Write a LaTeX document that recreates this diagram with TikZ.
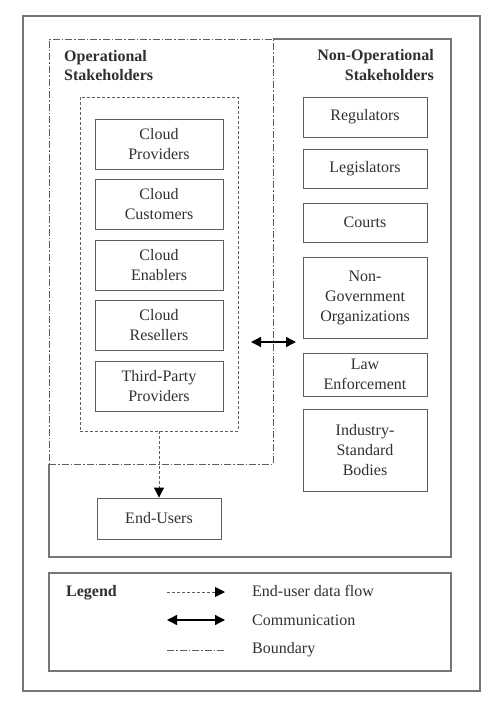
\documentclass[tikz,border=0pt]{standalone}
\usepackage{fontspec}
\setmainfont{Liberation Serif}
\usepackage{tikz}
\usetikzlibrary{arrows.meta}
\definecolor{edgegray}{HTML}{5E5E5E}
\definecolor{inkgray}{HTML}{303030}
\tikzset{
    frame/.style={draw=edgegray!85, line width=1.1pt},
    stake/.style={draw=edgegray, line width=0.9pt, align=center, inner sep=0pt, text=inkgray, font=\fontsize{16}{20}\selectfont},
    heading/.style={inner sep=0pt, text=inkgray, font=\bfseries\fontsize{16}{19}\selectfont},
    plain/.style={inner sep=0pt, text=inkgray, font=\fontsize{16}{20}\selectfont},
    zone/.style={draw=edgegray, line width=0.9pt, dash pattern=on 7pt off 2pt on 1.5pt off 2pt},
    group/.style={draw=edgegray, line width=0.9pt, dash pattern=on 3pt off 2pt},
    flow/.style={draw=edgegray, line width=0.9pt, dash pattern=on 3pt off 2pt, -{Triangle[length=10pt,width=10pt,black]}},
    talk/.style={draw=black, line width=1.3pt, {Triangle[length=10pt,width=10pt]}-{Triangle[length=10pt,width=10pt]}}
}

\begin{document}
\begin{tikzpicture}[x=1pt, y=-1pt]

                \useasboundingbox (0,0) rectangle (497,709);
                \draw[frame] (23,16) rectangle (480,691);
                \draw[frame] (273,39) -- (451,39) -- (451,557) -- (49,557) -- (49,464);
                \draw[frame] (49,573) rectangle (451,671);

                \node[zone, minimum width=224pt, minimum height=425pt] (opzone) at (161,251.5) {};
                \node[group, minimum width=158pt, minimum height=334pt] (opgroup) at (159,264) {};

                \node[heading, anchor=base west, align=left] (ophead) at (64,81) {Operational\\Stakeholders};
                \node[heading, anchor=base east, align=right] (nonophead) at (434,80) {Non-Operational\\Stakeholders};

                \node[stake, minimum width=128pt, minimum height=50pt] (providers) at (159,144) {Cloud\\Providers};
                \node[stake, minimum width=128pt, minimum height=50pt] (customers) at (159,204.5) {Cloud\\Customers};
                \node[stake, minimum width=128pt, minimum height=50pt] (enablers) at (159,265) {Cloud\\Enablers};
                \node[stake, minimum width=128pt, minimum height=50pt] (resellers) at (159,325.5) {Cloud\\Resellers};
                \node[stake, minimum width=128pt, minimum height=50pt] (thirdparty) at (159,386) {Third-Party\\Providers};

                \node[stake, minimum width=124pt, minimum height=41pt] (endusers) at (159,518.5) {End-Users};

                \node[stake, minimum width=124pt, minimum height=40pt] (regulators) at (365,117) {Regulators};
                \node[stake, minimum width=124pt, minimum height=39pt] (legislators) at (365,168.5) {Legislators};
                \node[stake, minimum width=124pt, minimum height=39pt] (courts) at (365,222.5) {Courts};
                \node[stake, minimum width=124pt, minimum height=81pt] (ngo) at (365,297.5) {Non-\\Government\\Organizations};
                \node[stake, minimum width=124pt, minimum height=43pt] (lawenf) at (365,374.5) {Law\\Enforcement};
                \node[stake, minimum width=124pt, minimum height=82pt] (industry) at (365,450) {Industry-\\Standard\\Bodies};

                \coordinate (talkw) at (251,342);
                \coordinate (talke) at (296,342);

                \draw[flow] (opgroup.south) -- (endusers.north);
                \draw[talk] (talkw) -- (talke);

                \node[heading, anchor=base west] (legend) at (66,596) {Legend};
                \coordinate (keyflowa) at (167,592);
                \coordinate (keyflowb) at (225,592);
                \coordinate (keytalka) at (167,620);
                \coordinate (keytalkb) at (225,620);
                \coordinate (keyzonea) at (167,650);
                \coordinate (keyzoneb) at (225,650);
                \draw[flow] (keyflowa) -- (keyflowb);
                \draw[talk] (keytalka) -- (keytalkb);
                \draw[zone, line width=0.6pt] (keyzonea) -- (keyzoneb);
                \node[plain, anchor=base west] (flowtext) at (252,596) {End-user data flow};
                \node[plain, anchor=base west] (talktext) at (252,625) {Communication};
                \node[plain, anchor=base west] (zonetext) at (252,653) {Boundary};

\end{tikzpicture}
\end{document}
